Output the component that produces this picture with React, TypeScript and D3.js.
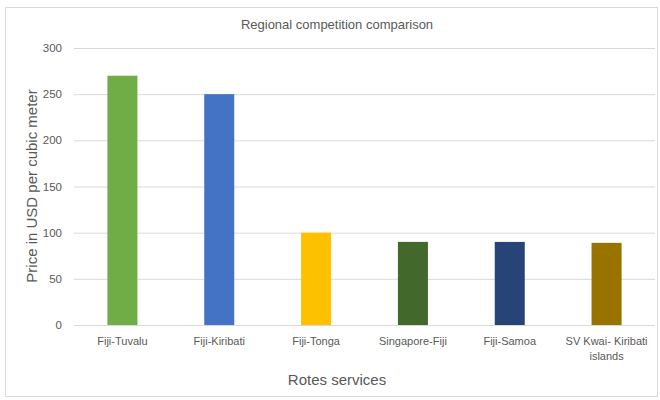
import React from "react";
import * as d3 from "d3";

const categories = ["Fiji-Tuvalu", "Fiji-Kiribati", "Fiji-Tonga", "Singapore-Fiji", "Fiji-Samoa", "SV Kwai- Kiribati islands"];
const labelLines = [["Fiji-Tuvalu"], ["Fiji-Kiribati"], ["Fiji-Tonga"], ["Singapore-Fiji"], ["Fiji-Samoa"], ["SV Kwai- Kiribati", "islands"]];
const values = [270, 250, 100, 90, 90, 89];
const colors = ["#70AD47", "#4472C4", "#FFC000", "#43682B", "#264478", "#997300"];
const yTicks = [0, 50, 100, 150, 200, 250, 300];

const W = 660, H = 400;
const FONT = "'Liberation Sans', Arial, sans-serif";

export default function App() {
  const x = d3.scaleBand<string>().domain(categories).range([74, 655]).paddingInner(0.69).paddingOuter(0.345);
  const y = d3.scaleLinear().domain([0, 300]).range([325, 48]);
  return (
    <svg width={W} height={H} style={{ position: "absolute", left: 0, top: 0 }}>
      <rect x={0} y={0} width={W} height={H} fill="#fff" />
      <rect x={5.5} y={7.5} width={652} height={389} fill="#fff" stroke="#d9d9d9" />
      <text x={337} y={29} textAnchor="middle" fontFamily={FONT} fontSize={13} fill="#595959">Regional competition comparison</text>
      {yTicks.map(t => (
        <g key={t}>
          <line x1={74} x2={655} y1={y(t) + 0.5} y2={y(t) + 0.5} stroke="#d9d9d9" />
          <text x={62} y={y(t) + 4} textAnchor="end" fontFamily={FONT} fontSize={11.5} fill="#595959">{t}</text>
        </g>
      ))}
      {categories.map((c, i) => (
        <rect key={c} x={x(c)} y={y(values[i])} width={x.bandwidth()} height={y(0) - y(values[i])} fill={colors[i]} />
      ))}
      {categories.map((c, i) => (
        <text key={c} x={(x(c) as number) + x.bandwidth() / 2} y={345} textAnchor="middle" fontFamily={FONT} fontSize={11} fill="#595959">
          {labelLines[i].map((l, j) => (
            <tspan key={j} x={(x(c) as number) + x.bandwidth() / 2} dy={j === 0 ? 0 : 15}>{l}</tspan>
          ))}
        </text>
      ))}
      <text x={337} y={385} textAnchor="middle" fontFamily={FONT} fontSize={15} fill="#595959">Rotes services</text>
      <text transform={`translate(37,${186}) rotate(-90)`} textAnchor="middle" fontFamily={FONT} fontSize={15} fill="#595959">Price in USD per cubic meter</text>
    </svg>
  );
}
